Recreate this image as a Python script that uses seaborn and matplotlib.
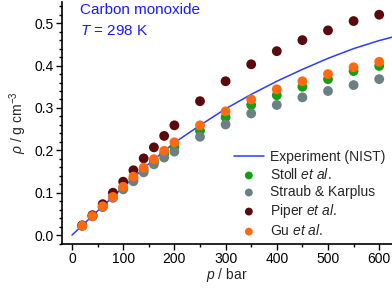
import numpy as np
import pandas as pd
import matplotlib
matplotlib.use("Agg")
import matplotlib.pyplot as plt
import seaborn as sns
from matplotlib.ticker import MultipleLocator

sns.set_theme(style="ticks")
plt.rcParams['font.family'] = ['Liberation Sans', 'DejaVu Sans']
plt.rcParams['mathtext.fontset'] = 'custom'
plt.rcParams['mathtext.it'] = 'Liberation Sans:italic'
plt.rcParams['mathtext.rm'] = 'Liberation Sans'

# NIST experimental curve
nist_p = [0, 50, 100, 150, 200, 250, 300, 350, 400, 450, 500, 550, 600, 625]
nist_rho = [0.0, 0.057, 0.113, 0.168, 0.218, 0.259, 0.298, 0.332, 0.363, 0.391, 0.417, 0.440, 0.459, 0.467]

pressures = [20, 40, 60, 80, 100, 120, 140, 160, 180, 200, 250, 300, 350, 400, 450, 500, 550, 600]
stoll = [0.022, 0.045, 0.067, 0.089, 0.111, 0.133, 0.154, 0.173, 0.192, 0.208,
         0.246, 0.278, 0.307, 0.330, 0.350, 0.368, 0.387, 0.399]
straub = [0.022, 0.044, 0.066, 0.088, 0.108, 0.127, 0.148, 0.167, 0.183, 0.197,
          0.232, 0.261, 0.287, 0.307, 0.325, 0.340, 0.354, 0.368]
piper = [0.023, 0.047, 0.073, 0.100, 0.126, 0.153, 0.181, 0.207, 0.234, 0.259,
         0.316, 0.363, 0.403, 0.434, 0.460, 0.483, 0.505, 0.520]
gu = [0.022, 0.045, 0.068, 0.090, 0.114, 0.138, 0.159, 0.179, 0.199, 0.219,
      0.259, 0.292, 0.320, 0.344, 0.363, 0.380, 0.396, 0.409]

series_names = ["Stoll $\\it{et\\ al.}$", "Straub & Karplus", "Piper $\\it{et\\ al.}$", "Gu $\\it{et\\ al.}$"]
series_vals = [stoll, straub, piper, gu]
series_colors = ["#12a012", "#6b8082", "#5a0a0c", "#ff6a10"]

fig = plt.figure(figsize=(3.92, 2.88), dpi=100)
ax = fig.add_axes([62/392, 44/288, 330/392, 242/288])

sns.lineplot(x=nist_p, y=nist_rho, ax=ax, color="#2b3cff", lw=1.1,
             label="Experiment (NIST)")
for name, vals, col in zip(series_names, series_vals, series_colors):
    sns.scatterplot(x=pressures, y=vals, ax=ax, color=col, s=50,
                    edgecolor="none", linewidth=0, label=name, zorder=3)

ax.set_xlim(-19.5, 625)
ax.set_ylim(-0.021, 0.55)
ax.xaxis.set_major_locator(MultipleLocator(100))
ax.xaxis.set_minor_locator(MultipleLocator(50))
ax.yaxis.set_major_locator(MultipleLocator(0.1))
ax.yaxis.set_minor_locator(MultipleLocator(0.02))
ax.yaxis.set_major_formatter(matplotlib.ticker.FormatStrFormatter('%.1f'))
for s in ["top", "right"]:
    ax.spines[s].set_visible(False)
for s in ["left", "bottom"]:
    ax.spines[s].set_linewidth(1.2)
    ax.spines[s].set_color("black")
ax.tick_params(which="major", direction="out", length=4, width=1, labelsize=10, colors="black", pad=2)
ax.tick_params(which="minor", direction="out", length=2.5, width=1, colors="black")

ax.set_xlabel("$\\it{p}$ / bar", fontsize=10, labelpad=0)
ax.set_ylabel("$\\it{\\rho}$ / g cm$^{-3}$", fontsize=10, labelpad=4)

ax.text(0.055, 0.965, "Carbon monoxide", transform=ax.transAxes, color="#1a1aff",
        fontsize=11, va="center", ha="left")
ax.text(0.055, 0.88, "$\\it{T}$ = 298 K", transform=ax.transAxes, color="#1a1aff",
        fontsize=11, va="center", ha="left")

h, l = ax.get_legend_handles_labels()
leg = ax.legend(h, l, loc="lower right", frameon=False, fontsize=10,
                handlelength=2.2, handletextpad=0.4, labelspacing=0.22,
                borderaxespad=0.1, markerscale=0.8, bbox_to_anchor=(1.0, -0.005))

fig.savefig("out.png", dpi=100)
